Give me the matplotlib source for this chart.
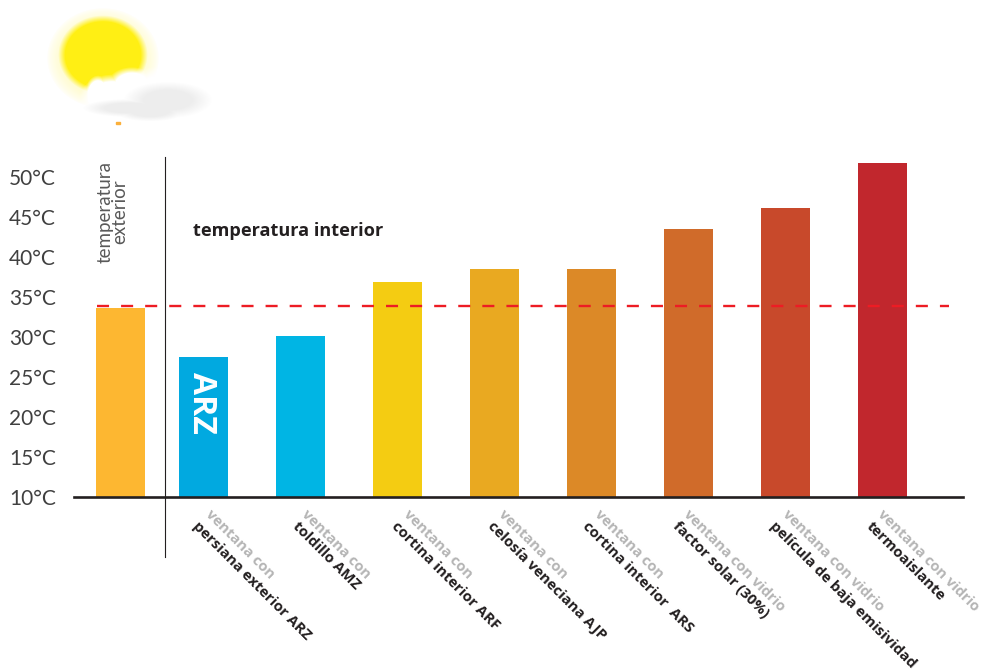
import numpy as np
import matplotlib
matplotlib.use('Agg')
import matplotlib.pyplot as plt

ticks = [10, 15, 20, 25, 30, 35, 40, 45, 50]
tick_labels = ['10°C', '15°C', '20°C', '25°C', '30°C', '35°C', '40°C', '45°C', '50°C']

exterior = 33.6
exterior_dashed = 33.9
grupos = ['ventana con', 'ventana con', 'ventana con', 'ventana con', 'ventana con',
          'ventana con vidrio', 'ventana con vidrio', 'ventana con vidrio']
nombres = ['persiana exterior ARZ', 'toldillo AMZ', 'cortina interior ARF', 'celosía veneciana AJP',
           'cortina interior  ARS', 'factor solar (30%)', 'película de baja emisividad', 'termoaislante']
interior = [27.5, 30.1, 36.9, 38.5, 38.5, 43.5, 46.1, 51.75]

colores = ['#01a9e0', '#00b5e4', '#f4cc12', '#e9a921', '#dc8927', '#d06b2a', '#c8492b', '#c1272d']
W, H = 981, 670


def dibujar_sol(fig):
    # sol y nube difuminados, en pixeles de la figura
    x0, x1, y0, y1 = 30, 235, 0, 135
    xx, yy = np.meshgrid(np.arange(x0, x1) + 0.5, np.arange(y0, y1) + 0.5)

    def elipse(cx, cy, rx, ry, b=0.22):
        d = np.hypot((xx - cx) / rx, (yy - cy) / ry) - 1
        return np.clip(0.5 - d / b, 0, 1)

    sol = elipse(103, 55, 42, 37, 0.2)
    halo = np.clip(1 - np.hypot((xx - 103) / 56, (yy - 58) / 50), 0, 1) ** 0.7 * 0.5
    a_sol = np.maximum(sol, halo)
    img = np.ones(xx.shape + (3,))
    amarillo = [1.0, 0.94, 0.08]
    for c in range(3):
        img[..., c] = 1 - a_sol * (1 - amarillo[c])

    blanco = np.maximum.reduce([elipse(112, 99, 28, 21, 0.35), elipse(132, 85, 21, 15, 0.4),
                                elipse(165, 95, 42, 24, 0.4), elipse(98, 96, 12, 18, 0.3)])
    gris = np.maximum.reduce([elipse(168, 100, 34, 14, 0.6), elipse(130, 108, 36, 7, 0.6),
                              elipse(150, 111, 28, 8, 0.6)])
    for capa, tono in ((blanco, 1.0), (gris, 0.93)):
        for c in range(3):
            img[..., c] = img[..., c] * (1 - capa) + tono * capa
    ax_s = fig.add_axes([x0 / W, 1 - y1 / H, (x1 - x0) / W, (y1 - y0) / H])
    ax_s.imshow(img, aspect='auto', interpolation='bilinear')
    ax_s.axis('off')


if __name__ == "__main__":
    fig = plt.figure(figsize=(W / 100, H / 100), dpi=100)
    ax = fig.add_axes([74 / W, 1 - 497 / H, (963 - 74) / W, (497 - 150) / H])

    pos = np.arange(8)
    pos_ext = -0.856
    ancho = 0.505
    ax.bar(pos_ext, exterior - 10, ancho, bottom=10, color='#fdb731')
    ax.bar(pos, np.array(interior) - 10, ancho, bottom=10, color=colores)
    ax.set_xlim(-1.335, 7.830)
    ax.set_ylim(10, 53.375)

    for s in ['top', 'right', 'left']:
        ax.spines[s].set_visible(False)
    ax.spines['bottom'].set_linewidth(1.9)
    ax.spines['bottom'].set_color('#231f20')
    ax.set_xticks([])
    ax.set_yticks(ticks)
    ax.set_yticklabels(tick_labels, family='Lato', fontweight='normal', fontsize=15, color='#404040')
    ax.tick_params(axis='y', length=0, pad=20)
    for t in ax.get_yticklabels():
        t.set_ha('left')
        t.set_x(-65 / (963 - 74))
        t.set_transform(ax.get_yaxis_transform())

    ax.plot([-1.098, 7.686], [exterior_dashed, exterior_dashed], color='#ed1c24', lw=1.7,
            dashes=(5.1, 5.1), zorder=3, clip_on=False)
    ax.plot([-0.392, -0.392], [2.5, 52.5], color='#231f20', lw=0.8, clip_on=False, zorder=3)

    ax.text(-0.94, 39.25, 'temperatura\nexterior', rotation=90, family='Lato', fontweight='normal',
            fontsize=13.5, color='#595959', ha='center', va='bottom', linespacing=0.85)
    ax.text(-0.108, 43.2, 'temperatura interior', family='Open Sans', fontweight='bold', fontsize=13.1,
            color='#231f20', va='center')
    ax.text(-0.02, 21.8, 'ARZ', rotation=-90, family='Open Sans', fontweight='bold', fontsize=23,
            color='white', ha='center', va='center')

    # desplazamiento en pixeles desde el centro de cada barra
    dx_gris = [4, 3, 8, 6, 5, -3, -1, -3]
    dx_negro = [-9, -6, -4, -5, -7, -14, -14, -14]
    for i in range(8):
        ax.annotate(grupos[i], (pos[i], 10), xytext=(dx_gris[i], -15), textcoords='offset pixels',
                    rotation=-45, rotation_mode='anchor', ha='left', va='center',
                    family='Open Sans', fontweight='bold', fontsize=10.6, color='#b5b5b5',
                    annotation_clip=False)
        ax.annotate(nombres[i], (pos[i], 10), xytext=(dx_negro[i], -27), textcoords='offset pixels',
                    rotation=-45, rotation_mode='anchor', ha='left', va='center',
                    family='Open Sans', fontweight='bold', fontsize=10.7, color='#231f20',
                    annotation_clip=False)

    dibujar_sol(fig)
    fig.patches.append(plt.Rectangle((116 / W, 1 - 124 / H), 4 / W, 2 / H, color='#fbb03b',
                                     transform=fig.transFigure))
    fig.savefig('out.png', dpi=100)
